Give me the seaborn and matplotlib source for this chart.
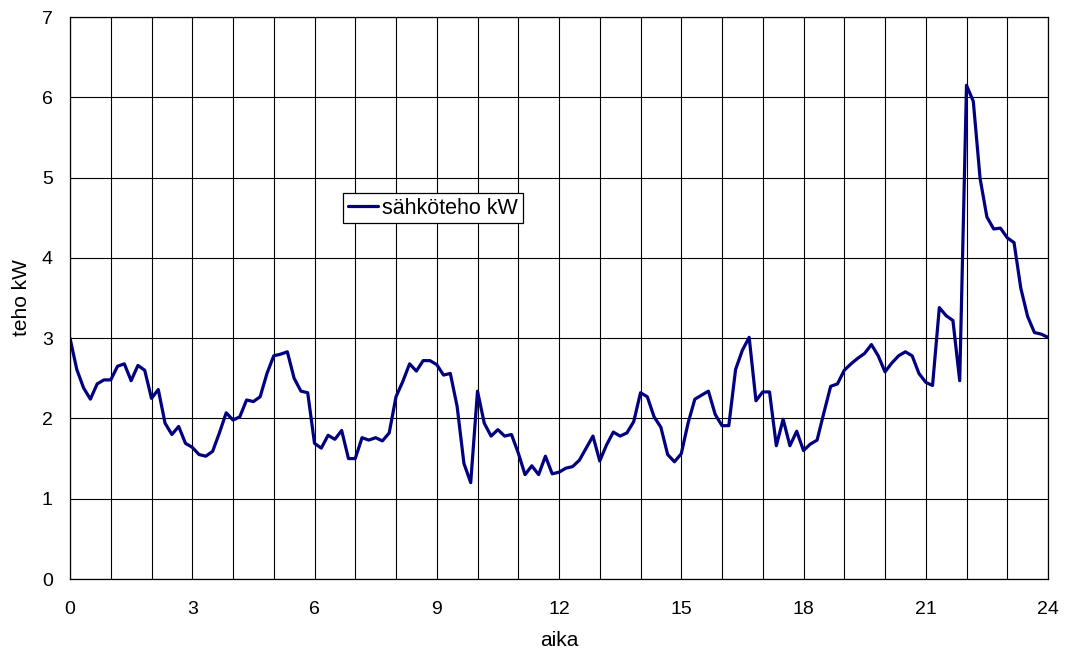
import numpy as np
import pandas as pd
import matplotlib
matplotlib.use("Agg")
import matplotlib.pyplot as plt
import seaborn as sns
from matplotlib.ticker import MultipleLocator

# Electric power readings every 10 minutes over one day (kW)
power_kw = [
    3.00, 2.61, 2.38, 2.24, 2.43, 2.48,   # 0 h
    2.48, 2.65, 2.68, 2.47, 2.66, 2.60,   # 1 h
    2.25, 2.36, 1.94, 1.80, 1.90, 1.69,   # 2 h
    1.64, 1.55, 1.53, 1.59, 1.82, 2.07,   # 3 h
    1.98, 2.02, 2.23, 2.21, 2.27, 2.56,   # 4 h
    2.78, 2.80, 2.83, 2.50, 2.34, 2.32,   # 5 h
    1.69, 1.63, 1.79, 1.74, 1.85, 1.50,   # 6 h
    1.50, 1.76, 1.73, 1.76, 1.72, 1.82,   # 7 h
    2.27, 2.46, 2.68, 2.59, 2.72, 2.72,   # 8 h
    2.67, 2.54, 2.56, 2.15, 1.44, 1.20,   # 9 h
    2.34, 1.94, 1.78, 1.86, 1.78, 1.80,   # 10 h
    1.57, 1.30, 1.41, 1.30, 1.53, 1.31,   # 11 h
    1.33, 1.38, 1.40, 1.48, 1.63, 1.78,   # 12 h
    1.47, 1.67, 1.83, 1.78, 1.82, 1.96,   # 13 h
    2.32, 2.27, 2.02, 1.89, 1.55, 1.46,   # 14 h
    1.56, 1.94, 2.24, 2.29, 2.34, 2.05,   # 15 h
    1.91, 1.91, 2.61, 2.85, 3.01, 2.22,   # 16 h
    2.33, 2.33, 1.66, 1.99, 1.66, 1.84,   # 17 h
    1.60, 1.68, 1.73, 2.07, 2.40, 2.43,   # 18 h
    2.60, 2.68, 2.75, 2.81, 2.92, 2.78,   # 19 h
    2.58, 2.69, 2.78, 2.83, 2.78, 2.56,   # 20 h
    2.45, 2.41, 3.38, 3.28, 3.22, 2.47,   # 21 h
    6.15, 5.95, 4.99, 4.51, 4.36, 4.37,   # 22 h
    4.25, 4.19, 3.62, 3.27, 3.07, 3.05,   # 23 h
    3.01,                                 # 24 h
]
time_h = [i / 6 for i in range(len(power_kw))]

series_name = "sähköteho kW"
x_label = "aika"
y_label = "teho kW"
x_ticks = [0, 3, 6, 9, 12, 15, 18, 21, 24]
y_ticks = [0, 1, 2, 3, 4, 5, 6, 7]

df = pd.DataFrame({"aika": time_h, "teho": power_kw, "sarja": series_name})

sns.set_style("white")
plt.rcParams["font.family"] = ["Liberation Sans", "DejaVu Sans"]
plt.rcParams["text.color"] = "black"
plt.rcParams["axes.labelcolor"] = "black"
plt.rcParams["xtick.color"] = "black"
plt.rcParams["ytick.color"] = "black"

fig = plt.figure(figsize=(10.66, 6.62), dpi=100)
ax = fig.add_axes([70 / 1066, (662 - 579) / 662, 978 / 1066, 562 / 662])

sns.lineplot(data=df, x="aika", y="teho", hue="sarja",
             palette=["#000080"], linewidth=2.3, ax=ax)

ax.set_xlim(0, 24)
ax.set_ylim(0, 7)
ax.set_xticks(x_ticks)
ax.xaxis.set_minor_locator(MultipleLocator(1))
ax.set_yticks(y_ticks)

ax.grid(True, which="major", axis="y", color="black", linewidth=0.8)
ax.grid(True, which="both", axis="x", color="black", linewidth=0.8)
ax.set_axisbelow(True)

for s in ax.spines.values():
    s.set_color("black")
    s.set_linewidth(0.9)

ax.tick_params(axis="both", which="major", direction="out", length=5,
               width=0.9, labelsize=14)
ax.tick_params(axis="y", which="major", pad=7.5)
ax.tick_params(axis="x", which="major", pad=11)
ax.tick_params(axis="x", which="minor", length=0)

ax.set_xlabel(x_label, fontsize=15, labelpad=9)
ax.set_ylabel(y_label, fontsize=15, labelpad=8)

leg = ax.legend(loc="upper left", bbox_to_anchor=(0.279, 0.687),
                frameon=True, fancybox=False, framealpha=1,
                edgecolor="black", fontsize=15.5, handlelength=1.4,
                handletextpad=0.2, borderpad=0.22, borderaxespad=0)
leg.get_frame().set_linewidth(0.9)

fig.savefig("out.png", dpi=100, facecolor="white")
